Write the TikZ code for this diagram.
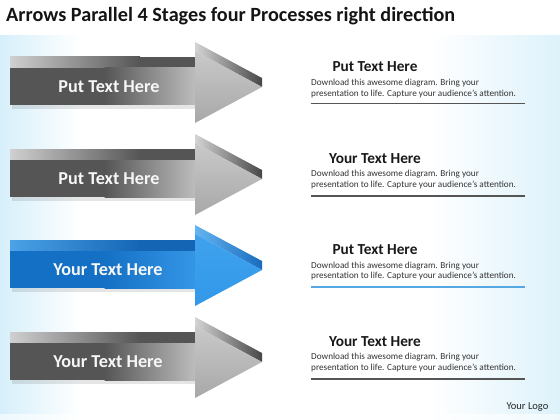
\documentclass[tikz,border=0pt]{standalone}
\usepackage{fontspec}
\setmainfont{Carlito}
\definecolor{bgL}{HTML}{D6EFFA}
\definecolor{bgR}{HTML}{DDF2FB}
\definecolor{gDark}{HTML}{555555}
\definecolor{gLight}{HTML}{BDBDBD}
\definecolor{gTopL}{HTML}{D0D0D0}
\definecolor{gHeadA}{HTML}{C9C9C9}
\definecolor{gHeadB}{HTML}{A8A8A8}
\definecolor{gBev}{HTML}{474747}
\definecolor{bDark}{HTML}{1470C4}
\definecolor{bLight}{HTML}{3596E6}
\definecolor{bTopL}{HTML}{4BA2E6}
\definecolor{bTopR}{HTML}{1466B5}
\definecolor{bHeadA}{HTML}{3EA2EE}
\definecolor{bHeadB}{HTML}{3298E8}
\definecolor{bBev}{HTML}{186CBD}
\definecolor{ruleGray}{HTML}{555555}
\definecolor{ruleBlue}{HTML}{55A8E2}
\definecolor{txt}{HTML}{333333}
\tikzset{
  arrowtext/.style={text=white!94!gray,font=\bfseries\fontsize{18.2}{18.2}\selectfont,inner sep=0pt},
  headtext/.style={text=black!90,font=\bfseries\fontsize{15.3}{15.3}\selectfont,inner sep=0pt},
  desctext/.style={text=txt,font=\fontsize{9.2}{10.8}\selectfont,align=left,inner sep=0pt,anchor=west},
  rulestyle/.style={line width=1.3pt},
}
% #1 offset, #2 topL, #3 topR, #4 bodyL, #5 bodyR, #6 headA, #7 headB, #8 bevel
\newcommand\arrowshape[8]{%
  \begin{scope}[shift={(0,#1)}]
    \fill[black,opacity=.10] (12,105) rectangle (195,109);
    \shade[left color=#2,right color=#3] (10,57) rectangle (140,68);
    \fill[#3] (140,57) rectangle (195,68);
    \fill[#4] (10,68) rectangle (105,105);
    \shade[left color=#4,right color=#5] (104.5,68) rectangle (195.5,105);
    \shade[left color=#6!80!white,right color=#8] (195,42) -- (262,78) -- (262,87) -- (195,51) -- cycle;
    \shade[top color=#6,bottom color=#7] (195,51) -- (262,87) -- (195,123) -- cycle;
  \end{scope}}
\begin{document}
\begin{tikzpicture}[x=1pt,y=-1pt]
\useasboundingbox (0,0) rectangle (560,420);
% background
\fill[white] (0,0) rectangle (560,420);
\shade[left color=bgL,right color=white] (0,35) rectangle (80,420);
\shade[left color=white,right color=bgR] (430,35) rectangle (560,420);
\fill[white] (0,0) rectangle (560,35);
\fill[white,opacity=.6] (0,414) rectangle (560,420);
% title
\node[anchor=west,inner sep=0pt,font=\bfseries\fontsize{20.2}{20.2}\selectfont,text=black!92] (title) at (6,16) {Arrows Parallel 4 Stages four Processes right direction};
% arrows
\arrowshape{0}{gTopL}{gDark}{gDark}{gLight}{gHeadA}{gHeadB}{gBev}
\arrowshape{92}{gTopL}{gDark}{gDark}{gLight}{gHeadA}{gHeadB}{gBev}
\arrowshape{183}{bTopL}{bTopR}{bDark}{bLight}{bHeadA}{bHeadB}{bBev}
\arrowshape{275}{gTopL}{gDark}{gDark}{gLight}{gHeadA}{gHeadB}{gBev}
\node[arrowtext] (a1) at (109,86.5) {Put Text Here};
\node[arrowtext] (a2) at (109,178.5) {Put Text Here};
\node[arrowtext] (a3) at (108,269.5) {Your Text Here};
\node[arrowtext] (a4) at (108,361.5) {Your Text Here};
% right text blocks
\node[headtext] (h1) at (375,67) {Put Text Here};
\node[desctext] (d1) at (311,88.5) {Download this awesome diagram. Bring your\\presentation to life. Capture your audience’s attention.};
\coordinate (r1a) at (311,103.5); \coordinate (r1b) at (525,103.5);
\draw[rulestyle,ruleGray] (r1a) -- (r1b);
\node[headtext] (h2) at (375,158.5) {Your Text Here};
\node[desctext] (d2) at (311,179.5) {Download this awesome diagram. Bring your\\presentation to life. Capture your audience’s attention.};
\coordinate (r2a) at (311,196); \coordinate (r2b) at (525,196);
\draw[rulestyle,ruleGray] (r2a) -- (r2b);
\node[headtext] (h3) at (375,250) {Put Text Here};
\node[desctext] (d3) at (311,271) {Download this awesome diagram. Bring your\\presentation to life. Capture your audience’s attention.};
\coordinate (r3a) at (311,287); \coordinate (r3b) at (525,287);
\draw[rulestyle,ruleBlue] (r3a) -- (r3b);
\node[headtext] (h4) at (375,342) {Your Text Here};
\node[desctext] (d4) at (311,362.5) {Download this awesome diagram. Bring your\\presentation to life. Capture your audience’s attention.};
\coordinate (r4a) at (311,379); \coordinate (r4b) at (525,379);
\draw[rulestyle,ruleGray] (r4a) -- (r4b);
% logo
\node[inner sep=0pt,text=black!85,font=\fontsize{10.5}{10.5}\selectfont] (logo) at (527.5,407) {Your Logo};
\end{tikzpicture}
\end{document}
